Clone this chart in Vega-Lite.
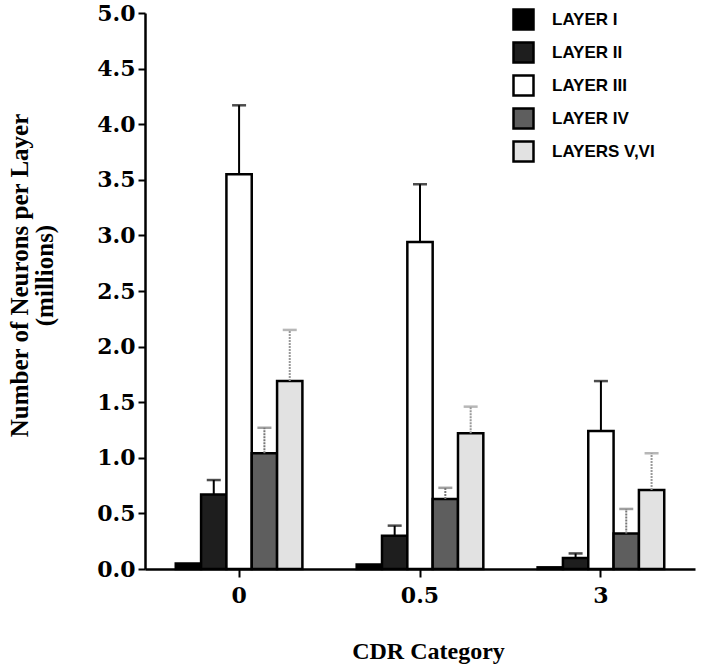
{
  "$schema": "https://vega.github.io/schema/vega-lite/v6.json",
  "autosize": {"type": "none"},
  "padding": {"left": 145, "top": 13, "right": 25, "bottom": 98},
  "width": 550,
  "height": 556,
  "background": "white",
  "config": {
    "view": {"stroke": null},
    "axis": {"grid": false, "domainColor": "black", "domainWidth": 2.5, "tickColor": "black", "tickWidth": 2, "labelColor": "black", "titleColor": "black"}
  },
  "data": {
    "values": [
      {"cdr": "0", "layer": "LAYER I", "value": 0.05, "upper": null},
      {"cdr": "0", "layer": "LAYER II", "value": 0.67, "upper": 0.80},
      {"cdr": "0", "layer": "LAYER III", "value": 3.55, "upper": 4.17},
      {"cdr": "0", "layer": "LAYER IV", "value": 1.04, "upper": 1.27},
      {"cdr": "0", "layer": "LAYERS V,VI", "value": 1.69, "upper": 2.15},
      {"cdr": "0.5", "layer": "LAYER I", "value": 0.04, "upper": null},
      {"cdr": "0.5", "layer": "LAYER II", "value": 0.30, "upper": 0.39},
      {"cdr": "0.5", "layer": "LAYER III", "value": 2.94, "upper": 3.46},
      {"cdr": "0.5", "layer": "LAYER IV", "value": 0.63, "upper": 0.73},
      {"cdr": "0.5", "layer": "LAYERS V,VI", "value": 1.22, "upper": 1.46},
      {"cdr": "3", "layer": "LAYER I", "value": 0.015, "upper": null},
      {"cdr": "3", "layer": "LAYER II", "value": 0.10, "upper": 0.14},
      {"cdr": "3", "layer": "LAYER III", "value": 1.24, "upper": 1.69},
      {"cdr": "3", "layer": "LAYER IV", "value": 0.32, "upper": 0.54},
      {"cdr": "3", "layer": "LAYERS V,VI", "value": 0.71, "upper": 1.04}
    ]
  },
  "encoding": {
    "x": {
      "field": "cdr", "type": "nominal", "sort": ["0", "0.5", "3"],
      "scale": {"paddingInner": 0.3, "paddingOuter": 0.17},
      "axis": {
        "title": "CDR Category", "labelAngle": 0,
        "labelFont": "DejaVu Serif", "labelFontWeight": "bold", "labelFontSize": 22,
        "labelPadding": 8, "tickSize": 8,
        "titleFont": "Liberation Serif", "titleFontWeight": "bold", "titleFontSize": 24,
        "titleX": 283, "titleY": 82, "titleBaseline": "middle", "titleAnchor": null
      }
    },
    "xOffset": {
      "field": "layer", "type": "nominal",
      "sort": ["LAYER I", "LAYER II", "LAYER III", "LAYER IV", "LAYERS V,VI"],
      "scale": {"paddingInner": 0, "paddingOuter": 0}
    }
  },
  "layer": [
    {
      "mark": {"type": "bar", "stroke": "black", "strokeWidth": 2.5},
      "encoding": {
        "y": {
          "field": "value", "type": "quantitative",
          "scale": {"domain": [0, 5], "nice": false},
          "axis": {
            "values": [0, 0.25, 0.5, 0.75, 1, 1.25, 1.5, 1.75, 2, 2.25, 2.5, 2.75, 3, 3.25, 3.5, 3.75, 4, 4.25, 4.5, 4.75, 5],
            "labelExpr": "(datum.value * 2) % 1 == 0 ? format(datum.value, '.1f') : ''",
            "labelFont": "DejaVu Serif", "labelFontWeight": "bold", "labelFontSize": 22,
            "labelPadding": 3, "tickSize": 7,
            "title": ["Number of Neurons per Layer", "(millions)"],
            "titleFont": "Liberation Serif", "titleFontWeight": "bold", "titleFontSize": 25,
            "titleAngle": -90, "titleX": -138, "titleY": 262, "titleAlign": "center", "titleBaseline": "top", "titleAnchor": null,
            "titleLineHeight": 25
          }
        },
        "fill": {
          "field": "layer", "type": "nominal",
          "sort": ["LAYER I", "LAYER II", "LAYER III", "LAYER IV", "LAYERS V,VI"],
          "scale": {"range": ["#000000", "#1e1e1e", "#ffffff", "#5e5e5e", "#e2e2e2"]},
          "legend": {
            "title": null, "orient": "none", "legendX": 367, "legendY": -5,
            "symbolType": "square", "symbolSize": 400, "symbolStrokeColor": "black", "symbolStrokeWidth": 2.5,
            "symbolOpacity": 1,
            "labelFont": "Liberation Sans", "labelFontWeight": "bold", "labelFontSize": 17, "labelColor": "black",
            "labelOffset": 17, "rowPadding": 2
          }
        }
      }
    },
    {
      "transform": [{"filter": "datum.upper != null"}],
      "mark": {"type": "rule", "strokeWidth": 2},
      "encoding": {
        "y": {"field": "value", "type": "quantitative"},
        "y2": {"field": "upper"},
        "stroke": {
          "field": "layer", "type": "nominal",
          "sort": ["LAYER II", "LAYER III", "LAYER IV", "LAYERS V,VI"],
          "scale": {"range": ["#000000", "#000000", "#777777", "#999999"]},
          "legend": null
        },
        "strokeDash": {
          "field": "layer", "type": "nominal",
          "sort": ["LAYER II", "LAYER III", "LAYER IV", "LAYERS V,VI"],
          "scale": {"range": [[1, 0], [1, 0], [2, 1], [2, 1]]},
          "legend": null
        }
      }
    },
    {
      "transform": [{"filter": "datum.upper != null"}],
      "mark": {"type": "tick", "size": 14, "thickness": 2.5, "orient": "horizontal"},
      "encoding": {
        "y": {"field": "upper", "type": "quantitative"},
        "color": {
          "field": "layer", "type": "nominal",
          "sort": ["LAYER II", "LAYER III", "LAYER IV", "LAYERS V,VI"],
          "scale": {"range": ["#000000", "#000000", "#777777", "#999999"]},
          "legend": null
        }
      }
    }
  ]
}
